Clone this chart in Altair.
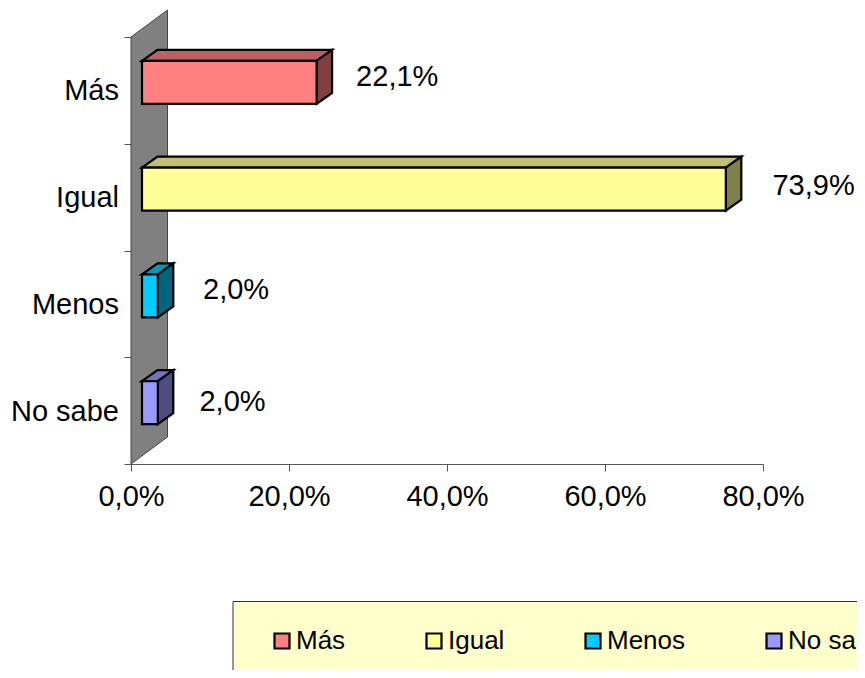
import altair as alt
import pandas as pd

categories = ["Más", "Igual", "Menos", "No sabe"]
values = [22.1, 73.9, 2.0, 2.0]
value_labels = ["22,1%", "73,9%", "2,0%", "2,0%"]
label_x = [33.7, 86.4, 13.3, 12.85]
label_y = [3.625, 2.604, 1.63, 0.58]
front_colors = ["#FF8080", "#FFFF99", "#00CCFF", "#9999FF"]
top_colors = ["#BF6060", "#BFBF73", "#0099BF", "#7373BF"]
side_colors = ["#804040", "#80804D", "#006680", "#4D4D80"]
x_ticks = [0, 20, 40, 60, 80]
y_ticks = [0, 1, 2, 3, 4]

W, H = 632, 427
XMAX, YMAX = 80, 4
ux = XMAX / W   # data units per pixel
uy = YMAX / H
GAP = 11 * ux   # distance of bars from the wall
DX = 15.5 * ux  # bar depth
DY = 11 * uy
WALL_DX = 36.5 * ux
WALL_DY = 27 * uy
BAR_H = 43 * uy
BAR_SHIFT = 8 * uy

xs = alt.Scale(domain=[0, XMAX], nice=False, zero=False)
ys = alt.Scale(domain=[0, YMAX], nice=False, zero=False)

fronts, faces = [], []
for i, (cat, v) in enumerate(zip(categories, values)):
    center = YMAX - i - 0.5 + BAR_SHIFT
    x0, x1 = GAP, GAP + v
    yb, yt = center - BAR_H / 2, center + BAR_H / 2
    fronts.append({"cat": cat, "x0": x0, "x1": x1, "yb": yb, "yt": yt})
    # top face
    for px, up, lo in [(x0, yt, yt), (x0 + DX, yt + DY, yt), (x1, yt + DY, yt), (x1 + DX, yt + DY, yt + DY)]:
        faces.append({"face": f"t{i}", "col": top_colors[i], "x": px, "y": up, "y2": lo})
    # side face
    for px, up, lo in [(x1, yt, yb), (x1 + DX, yt + DY, yb + DY)]:
        faces.append({"face": f"s{i}", "col": side_colors[i], "x": px, "y": up, "y2": lo})

wall = pd.DataFrame({"x": [0, WALL_DX], "y": [YMAX, YMAX + WALL_DY], "y2": [0, WALL_DY]})
fronts = pd.DataFrame(fronts)
faces = pd.DataFrame(faces)
cat_df = pd.DataFrame({"cat": categories, "y": [YMAX - i - 0.5 for i in range(4)], "x": [0] * 4})
lab_df = pd.DataFrame({"t": value_labels, "x": label_x, "y": label_y})

FONT = "Liberation Sans"
AXIS_COLOR = "#555555"

wall_layer = alt.Chart(wall).mark_area(orient="vertical", fill="#808080", stroke="#444444", strokeWidth=1).encode(
    x=alt.X("x:Q", scale=xs, title=None, axis=alt.Axis(
        values=x_ticks, grid=False, domainColor=AXIS_COLOR, tickColor=AXIS_COLOR, tickSize=7,
        labelFont=FONT, labelFontSize=29, labelColor="black", labelPadding=11, labelOverlap=False,
        labelFlush=False, labelExpr="replace(format(datum.value, '.1f'), '.', ',') + '%'")),
    y=alt.Y("y:Q", scale=ys, title=None, axis=alt.Axis(
        values=y_ticks, grid=False, labels=False, domainColor=AXIS_COLOR, tickColor=AXIS_COLOR, tickSize=7)),
    y2="y2:Q",
)

face_layer = alt.Chart(faces).mark_area(orient="vertical", stroke="black", strokeWidth=2.2, strokeJoin="miter").encode(
    x=alt.X("x:Q", scale=xs),
    y=alt.Y("y:Q", scale=ys),
    y2="y2:Q",
    detail="face:N",
    fill=alt.Fill("col:N", scale=None, legend=None),
)

front_layer = alt.Chart(fronts).mark_rect(stroke="black", strokeWidth=2.2).encode(
    x=alt.X("x0:Q", scale=xs),
    x2="x1:Q",
    y=alt.Y("yb:Q", scale=ys),
    y2="yt:Q",
    color=alt.Color("cat:N", sort=None, scale=alt.Scale(domain=categories, range=front_colors),
                    legend=alt.Legend(
                        title=None, orient="none", legendX=138, legendY=591, direction="horizontal", columns=4,
                        symbolType="square", symbolSize=225, symbolStrokeColor="black", symbolStrokeWidth=2.2,
                        labelFont=FONT, labelFontSize=26, labelColor="black", labelOffset=1, labelLimit=300,
                        columnPadding=75, padding=0, symbolOpacity=1)),
)

cat_layer = alt.Chart(cat_df).mark_text(align="right", baseline="middle", dx=-12, dy=1, font=FONT, fontSize=29, color="black").encode(
    x=alt.X("x:Q", scale=xs), y=alt.Y("y:Q", scale=ys), text="cat:N")

val_layer = alt.Chart(lab_df).mark_text(align="center", baseline="middle", font=FONT, fontSize=29, color="black").encode(
    x=alt.X("x:Q", scale=xs), y=alt.Y("y:Q", scale=ys), text="t:N")

box = alt.Chart(pd.DataFrame({"k": [1]})).mark_rect(fill="#FFFFCC", stroke="#333333", strokeWidth=1).encode(
    x=alt.value(102), x2=alt.value(800), y=alt.value(564.5), y2=alt.value(700))

chart = alt.layer(box, wall_layer, face_layer, front_layer, cat_layer, val_layer).properties(
    width=W, height=H,
    autosize=alt.AutoSizeParams(type="none"),
    padding={"left": 123, "top": 29, "right": 94, "bottom": 206},
    background="white",
).configure_view(stroke=None)

chart.save("out.html", embed_options={"renderer": "svg", "actions": False})
